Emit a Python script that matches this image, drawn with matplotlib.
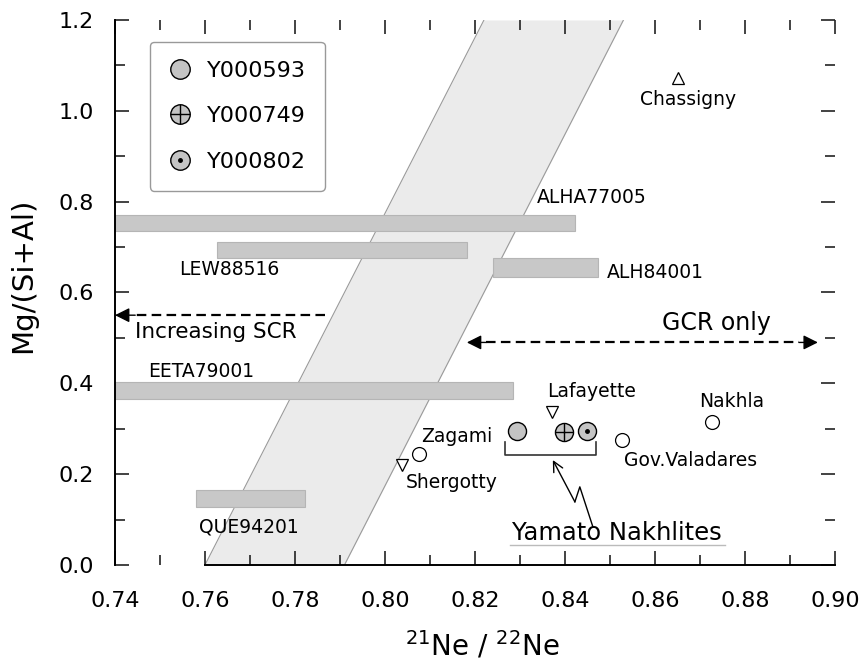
import matplotlib
matplotlib.use("Agg")
import matplotlib.pyplot as plt
from matplotlib.lines import Line2D
from matplotlib.legend_handler import HandlerTuple
from matplotlib.ticker import MultipleLocator

# --- data ---
# cosmic-ray production band (slanted), left / right edge at y = 0 and y = 1.2
band_y = [0.0, 1.2]
band_left = [0.760, 0.822]
band_right = [0.791, 0.853]

# whole-rock ranges drawn as horizontal bars
bar_names = ["ALHA77005", "LEW88516", "ALH84001", "EETA79001", "QUE94201"]
bar_x0 = [0.740, 0.7627, 0.824, 0.740, 0.758]
bar_x1 = [0.8422, 0.8182, 0.8473, 0.8284, 0.7822]
bar_y0 = [0.736, 0.677, 0.633, 0.365, 0.127]
bar_y1 = [0.771, 0.712, 0.677, 0.402, 0.165]

# other martian meteorites
met_names = ["Lafayette", "Nakhla", "Gov.Valadares", "Zagami", "Shergotty", "Chassigny"]
met_x = [0.8371, 0.8727, 0.8527, 0.8076, 0.8038, 0.8651]
met_y = [0.336, 0.314, 0.275, 0.244, 0.220, 1.0725]
met_marker = ["v", "o", "o", "o", "v", "^"]

# Yamato nakhlites
yam_names = ["Y000593", "Y000749", "Y000802"]
yam_x = [0.8293, 0.8398, 0.8449]
yam_y = [0.295, 0.292, 0.295]

fig = plt.figure(figsize=(8.65, 6.66), dpi=100)
ax = fig.add_axes([0.1329, 0.1517, 0.8324, 0.8183])

# band
ax.fill_betweenx(band_y, band_left, band_right, color="#ebebeb", lw=0, zorder=1)
ax.plot(band_left, band_y, color="#9a9a9a", lw=0.8, zorder=1.5)
ax.plot(band_right, band_y, color="#9a9a9a", lw=0.8, zorder=1.5)

# bars
for name, x0, x1, y0, y1 in zip(bar_names, bar_x0, bar_x1, bar_y0, bar_y1):
    ax.barh((y0 + y1) / 2, x1 - x0, left=x0, height=y1 - y0,
            color="#c8c8c8", edgecolor="#b5b5b5", lw=0.8, zorder=2)

bar_label_pos = {
    "ALHA77005": (0.846, 0.81),
    "LEW88516": (0.7653, 0.650),
    "ALH84001": (0.8600, 0.645),
    "EETA79001": (0.7591, 0.425),
    "QUE94201": (0.7698, 0.084),
}
for name in bar_names:
    tx, ty = bar_label_pos[name]
    ax.text(tx, ty, name, fontsize=13.5, ha="center", va="center", zorder=5)

# other meteorites
for x, y, m in zip(met_x, met_y, met_marker):
    ms = 10 if m == "o" else 9
    ax.plot(x, y, marker=m, ms=ms, mfc="white", mec="black", mew=0.9,
            ls="none", zorder=4)

met_label_pos = {
    "Lafayette": (0.846, 0.381),
    "Nakhla": (0.8771, 0.359),
    "Gov.Valadares": (0.8678, 0.231),
    "Zagami": (0.816, 0.282),
    "Shergotty": (0.8149, 0.181),
    "Chassigny": (0.8673, 1.026),
}
for name in met_names:
    tx, ty = met_label_pos[name]
    ax.text(tx, ty, name, fontsize=13.5, ha="center", va="center", zorder=5)

# Yamato nakhlites
gray = "#c4c4c4"
ax.plot(yam_x[0], yam_y[0], "o", ms=13, mfc=gray, mec="black", mew=1, zorder=4)
ax.plot(yam_x[1], yam_y[1], "o", ms=13, mfc=gray, mec="black", mew=1, zorder=4)
ax.plot(yam_x[1], yam_y[1], "+", ms=13, mec="black", mew=1, zorder=4.5)
ax.plot(yam_x[2], yam_y[2], "o", ms=13, mfc=gray, mec="black", mew=1, zorder=4)
ax.plot(yam_x[2], yam_y[2], ".", ms=5, color="black", zorder=4.5)

# bracket + lightning arrow + label
ax.plot([0.8267, 0.8267, 0.8469, 0.8469], [0.271, 0.242, 0.242, 0.271],
        color="#333333", lw=1.2, zorder=3)
ax.plot([0.8462, 0.8433, 0.8422], [0.084, 0.172, 0.139], color="black", lw=1, zorder=3)
ax.annotate("", xy=(0.8373, 0.231), xytext=(0.8422, 0.139),
            arrowprops=dict(arrowstyle="->", lw=1, color="black",
                            mutation_scale=18, shrinkA=0, shrinkB=0))
ax.text(0.8516, 0.0705, "Yamato Nakhlites", fontsize=17.5, ha="center", va="center")
ax.plot([0.8278, 0.8756], [0.044, 0.044], color="#bbbbbb", lw=1)

# dashed arrows
dash = dict(color="black", lw=1.6, dashes=(4.3, 2.4), zorder=3)
ax.plot([0.7866, 0.7440], [0.55, 0.55], **dash)
ax.annotate("", xy=(0.7400, 0.55), xytext=(0.7445, 0.55),
            arrowprops=dict(arrowstyle="-|>", color="black", lw=1,
                            mutation_scale=22, shrinkA=0, shrinkB=0))
ax.text(0.7444, 0.513, "Increasing SCR", fontsize=15.5, ha="left", va="center")

ax.plot([0.8225, 0.8920], [0.49, 0.49], **dash)
ax.annotate("", xy=(0.8182, 0.49), xytext=(0.8225, 0.49),
            arrowprops=dict(arrowstyle="-|>", color="black", lw=1,
                            mutation_scale=22, shrinkA=0, shrinkB=0))
ax.annotate("", xy=(0.8962, 0.49), xytext=(0.8920, 0.49),
            arrowprops=dict(arrowstyle="-|>", color="black", lw=1,
                            mutation_scale=22, shrinkA=0, shrinkB=0))
ax.text(0.8736, 0.533, "GCR only", fontsize=17, ha="center", va="center")

# legend
def circ():
    return Line2D([], [], marker="o", ms=14, mfc=gray, mec="black", mew=1, ls="none")

handles = [
    circ(),
    (circ(), Line2D([], [], marker="+", ms=14, mec="black", mew=1, ls="none")),
    (circ(), Line2D([], [], marker=".", ms=5, color="black", ls="none")),
]
leg = ax.legend(handles, yam_names, loc="upper left", bbox_to_anchor=(0.0486, 0.96),
                borderaxespad=0, fontsize=16, handlelength=1.0, handletextpad=0.7,
                labelspacing=1.15, borderpad=0.85, fancybox=True, framealpha=1,
                handler_map={tuple: HandlerTuple(ndivide=1)})
leg.get_frame().set_edgecolor("#999999")
leg.get_frame().set_linewidth(1.0)

# axes
ax.set_xlim(0.74, 0.90)
ax.set_ylim(0.0, 1.2)
ax.xaxis.set_major_locator(MultipleLocator(0.02))
ax.xaxis.set_minor_locator(MultipleLocator(0.01))
ax.yaxis.set_major_locator(MultipleLocator(0.2))
ax.yaxis.set_minor_locator(MultipleLocator(0.1))
ax.xaxis.set_major_formatter(plt.FormatStrFormatter("%.2f"))
ax.yaxis.set_major_formatter(plt.FormatStrFormatter("%.1f"))
ax.tick_params(which="both", direction="in", top=True, right=True, width=1.2, color="#222222")
ax.tick_params(which="major", length=10)
ax.tick_params(which="minor", length=7)
ax.tick_params(axis="x", which="major", labelsize=16, pad=19)
ax.tick_params(axis="y", which="major", labelsize=16, pad=15)

ax.spines["top"].set_visible(False)
ax.spines["right"].set_visible(False)
ax.spines["bottom"].set_bounds(0.76, 0.90)
ax.spines["bottom"].set_linewidth(1.4)
ax.spines["left"].set_linewidth(1.4)

ax.set_xlabel(r"$^{21}$Ne / $^{22}$Ne", fontsize=20)
ax.set_ylabel("Mg/(Si+Al)", fontsize=21)
ax.xaxis.set_label_coords(0.51, -0.119)
ax.yaxis.set_label_coords(-0.108, 0.532)

fig.savefig("out.png", dpi=100)
